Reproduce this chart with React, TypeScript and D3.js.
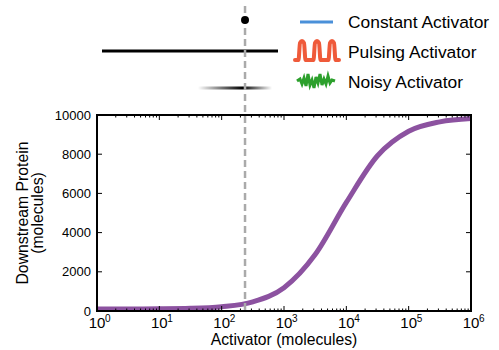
import React, { useEffect, useRef } from 'react';
import * as d3 from 'd3';

// --- Data ---
const decadeExps = [0, 1, 2, 3, 4, 5, 6];
const yTickValues = [0, 2000, 4000, 6000, 8000, 10000];
const curveExps = [0, 0.5, 1, 1.5, 2, 2.5, 3, 3.5, 4, 4.5, 5, 5.5, 6];
const curveProtein = [100, 105, 112, 135, 220, 470, 1190, 2880, 5540, 7920, 9170, 9650, 9820];
const thresholdActivator = 237;
const legendLabels = ['Constant Activator', 'Pulsing Activator', 'Noisy Activator'];
// pulse icon shape (x offset, height fraction)
const pulseX = [0, 3.5, 5, 7, 9, 10.5, 18.5, 20, 22, 24, 25.5, 33.5, 35, 37, 39, 40.5, 44];
const pulseH = [0, 0, 0.9, 1, 0.9, 0, 0, 0.9, 1, 0.9, 0, 0, 0.9, 1, 0.9, 0, 0];
// noisy icon shape
const noiseX = [0, 3, 5, 7, 9, 11, 13, 15, 17, 19, 21, 23, 25, 27, 29, 31, 33, 35, 38];
const noiseY = [0, -2, 3, -3, 5, -7, 4, -1, 7, -4, 2, -7, 4, -2, 3, -5, 2, -1, 0];

const ActivatorChart: React.FC = () => {
  const svgRef = useRef<SVGSVGElement | null>(null);

  useEffect(() => {
    if (!svgRef.current) return;
    const svg = d3.select(svgRef.current);
    svg.selectAll('*').remove();

    const font = '"Liberation Sans", Arial, sans-serif';
    const left = 97, right = 471, top = 115, bottom = 311;

    const x = d3.scaleLog().domain([1, 1e6]).range([left, right]);
    const y = d3.scaleLinear().domain([0, 10000]).range([bottom, top]);

    const defs = svg.append('defs');
    const grad = defs.append('linearGradient').attr('id', 'fadeGrad')
      .attr('x1', '0%').attr('x2', '100%').attr('y1', '0%').attr('y2', '0%');
    grad.append('stop').attr('offset', '0%').attr('stop-color', '#000').attr('stop-opacity', 0);
    grad.append('stop').attr('offset', '60%').attr('stop-color', '#000').attr('stop-opacity', 1);
    grad.append('stop').attr('offset', '100%').attr('stop-color', '#000').attr('stop-opacity', 0);

    // --- Curve ---
    const line = d3.line<number>()
      .x((_, i) => x(Math.pow(10, curveExps[i])))
      .y(d => y(d))
      .curve(d3.curveMonotoneX);
    svg.append('path')
      .datum(curveProtein)
      .attr('d', line)
      .attr('fill', 'none')
      .attr('stroke', '#8c52a0')
      .attr('stroke-width', 5);

    // --- Frame + ticks ---
    const g = svg.append('g').attr('stroke', '#000').attr('stroke-width', 1);
    const minor: number[] = [];
    decadeExps.slice(0, -1).forEach(e => {
      for (let k = 2; k < 10; k++) minor.push(k * Math.pow(10, e));
    });
    decadeExps.forEach(e => {
      const xv = x(Math.pow(10, e));
      g.append('line').attr('x1', xv).attr('x2', xv).attr('y1', bottom).attr('y2', bottom - 5);
      g.append('line').attr('x1', xv).attr('x2', xv).attr('y1', top).attr('y2', top + 5);
    });
    minor.forEach(m => {
      const xv = x(m);
      g.append('line').attr('x1', xv).attr('x2', xv).attr('y1', bottom).attr('y2', bottom - 2.5);
      g.append('line').attr('x1', xv).attr('x2', xv).attr('y1', top).attr('y2', top + 2.5);
    });
    yTickValues.forEach(v => {
      const yv = y(v);
      g.append('line').attr('x1', left).attr('x2', left + 5).attr('y1', yv).attr('y2', yv);
      g.append('line').attr('x1', right).attr('x2', right - 5).attr('y1', yv).attr('y2', yv);
    });
    svg.append('rect')
      .attr('x', left).attr('y', top).attr('width', right - left).attr('height', bottom - top)
      .attr('fill', 'none').attr('stroke', '#000').attr('stroke-width', 2);

    // --- Tick labels ---
    yTickValues.forEach(v => {
      svg.append('text')
        .attr('x', left - 6).attr('y', y(v) + 4.5)
        .attr('text-anchor', 'end')
        .attr('font-family', font).attr('font-size', 13)
        .text(String(v));
    });
    decadeExps.forEach(e => {
      const xv = x(Math.pow(10, e));
      svg.append('text')
        .attr('x', xv).attr('y', 328)
        .attr('text-anchor', 'middle')
        .attr('font-family', font).attr('font-size', 15)
        .text('10');
      svg.append('text')
        .attr('x', xv + 8).attr('y', 322)
        .attr('font-family', font).attr('font-size', 10)
        .text(String(e));
    });

    // --- Axis titles ---
    svg.append('text')
      .attr('x', 284).attr('y', 345)
      .attr('text-anchor', 'middle')
      .attr('font-family', font).attr('font-size', 15.7)
      .text('Activator (molecules)');
    const yl = svg.append('g').attr('transform', 'translate(0,213) rotate(-90)');
    yl.append('text').attr('x', 0).attr('y', 28)
      .attr('text-anchor', 'middle').attr('font-family', font).attr('font-size', 15.8)
      .text('Downstream Protein');
    yl.append('text').attr('x', 0).attr('y', 43)
      .attr('text-anchor', 'middle').attr('font-family', font).attr('font-size', 15.8)
      .text('(molecules)');

    // --- Activator level indicators ---
    const tx = x(thresholdActivator);
    svg.append('line')
      .attr('x1', 102).attr('x2', 278).attr('y1', 51).attr('y2', 51)
      .attr('stroke', '#000').attr('stroke-width', 3);
    svg.append('rect')
      .attr('x', 198).attr('y', 86.5).attr('width', 74).attr('height', 3)
      .attr('fill', 'url(#fadeGrad)');
    svg.append('line')
      .attr('x1', tx).attr('x2', tx).attr('y1', 6).attr('y2', bottom)
      .attr('stroke', '#aaaaaa').attr('stroke-width', 2.5)
      .attr('stroke-dasharray', '7,4');
    svg.append('circle').attr('cx', tx).attr('cy', 20).attr('r', 4).attr('fill', '#000');

    // --- Legend ---
    const legendY = [22, 52, 82];
    legendLabels.forEach((lab, i) => {
      svg.append('text')
        .attr('x', 348).attr('y', legendY[i] + 6)
        .attr('font-family', font).attr('font-size', 17.4)
        .text(lab);
    });
    svg.append('line')
      .attr('x1', 300).attr('x2', 333).attr('y1', 22).attr('y2', 22)
      .attr('stroke', '#4a90d9').attr('stroke-width', 3);
    const pulseLine = d3.line<number>()
      .x((_, i) => 295 + pulseX[i])
      .y(d => 60 - d * 19)
      .curve(d3.curveMonotoneX);
    svg.append('path').datum(pulseH).attr('d', pulseLine)
      .attr('fill', 'none').attr('stroke', '#ef5a3a').attr('stroke-width', 4)
      .attr('stroke-linecap', 'round');
    const noiseLine = d3.line<number>()
      .x((_, i) => 297 + noiseX[i])
      .y(d => 81 + d);
    svg.append('path').datum(noiseY).attr('d', noiseLine)
      .attr('fill', 'none').attr('stroke', '#2ca02c').attr('stroke-width', 3)
      .attr('stroke-linejoin', 'miter');
  }, []);

  return (
    <svg ref={svgRef} width={499} height={350}
      style={{ position: 'absolute', left: 0, top: 0, background: '#fff' }} />
  );
};

export default function App() {
  return <ActivatorChart />;
}
